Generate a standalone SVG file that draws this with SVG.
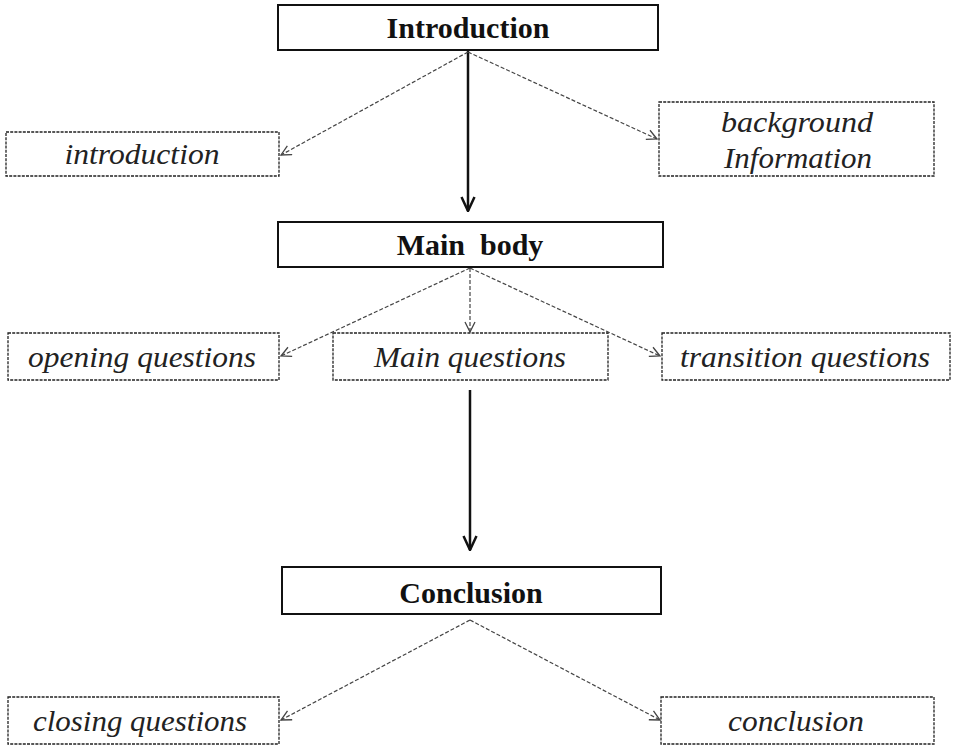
<svg xmlns="http://www.w3.org/2000/svg" width="954" height="746" viewBox="0 0 954 746">
<defs>
<style>
.main{fill:#fff;stroke:#111;stroke-width:2}
.sub{fill:#fff;stroke:#222;stroke-width:1.3;stroke-dasharray:3,1.2}
.bt{font-family:"Liberation Serif","Times New Roman",serif;font-weight:bold;font-size:30px;fill:#111;text-anchor:middle}
.it{font-family:"Liberation Serif","Times New Roman",serif;font-style:italic;font-size:30px;fill:#222;text-anchor:middle}
.dash{fill:none;stroke:#444;stroke-width:1.2;stroke-dasharray:4,2;marker-end:url(#ah)}
.solid{fill:none;stroke:#111;stroke-width:2.5;marker-end:url(#ahs)}
</style>
<marker id="ah" viewBox="0 0 12 12" refX="11" refY="6" markerWidth="12" markerHeight="12" markerUnits="userSpaceOnUse" orient="auto">
<polyline points="1,1 11,6 1,11" fill="none" stroke="#444" stroke-width="1.3"/>
</marker>
<marker id="ahs" viewBox="0 0 16 16" refX="15" refY="8" markerWidth="16" markerHeight="16" markerUnits="userSpaceOnUse" orient="auto">
<polyline points="1,1.5 15,8 1,14.5" fill="none" stroke="#111" stroke-width="2.5"/>
</marker>
</defs>
<rect width="954" height="746" fill="#fff"/>
<g id="connectors">
<line class="solid" x1="468" y1="51" x2="468" y2="211"/>
<line class="solid" x1="470" y1="390" x2="470" y2="550"/>
<line class="dash" x1="468" y1="52" x2="281" y2="155"/>
<line class="dash" x1="468" y1="52" x2="657" y2="139"/>
<line class="dash" x1="470" y1="268" x2="281" y2="356"/>
<line class="dash" x1="470" y1="268" x2="470" y2="332"/>
<line class="dash" x1="470" y1="268" x2="660" y2="356"/>
<line class="dash" x1="470" y1="620" x2="281" y2="720"/>
<line class="dash" x1="470" y1="620" x2="660" y2="720"/>
</g>
<g id="n-introduction-main">
<rect class="main" x="278" y="5" width="380" height="45"/>
<text class="bt" x="468" y="38">Introduction</text>
</g>
<g id="n-introduction">
<rect class="sub" x="6" y="132" width="273" height="44"/>
<text class="it" x="142" y="164" textLength="155" lengthAdjust="spacingAndGlyphs">introduction</text>
</g>
<g id="n-background">
<rect class="sub" x="659" y="102" width="275" height="74"/>
<text class="it" x="797" y="132" textLength="152" lengthAdjust="spacingAndGlyphs">background</text>
<text class="it" x="798" y="168" textLength="148" lengthAdjust="spacingAndGlyphs">Information</text>
</g>
<g id="n-mainbody">
<rect class="main" x="278" y="222" width="385" height="45"/>
<text class="bt" x="470" y="255" xml:space="preserve">Main  body</text>
</g>
<g id="n-opening">
<rect class="sub" x="8" y="333" width="271" height="47"/>
<text class="it" x="142" y="367" textLength="228" lengthAdjust="spacingAndGlyphs">opening questions</text>
</g>
<g id="n-mainq">
<rect class="sub" x="333" y="333" width="275" height="47"/>
<text class="it" x="470" y="367" textLength="192" lengthAdjust="spacingAndGlyphs">Main questions</text>
</g>
<g id="n-transition">
<rect class="sub" x="662" y="333" width="288" height="47"/>
<text class="it" x="805" y="367" textLength="250" lengthAdjust="spacingAndGlyphs">transition questions</text>
</g>
<g id="n-conclusion-main">
<rect class="main" x="282" y="567" width="379" height="47"/>
<text class="bt" x="471" y="603">Conclusion</text>
</g>
<g id="n-closing">
<rect class="sub" x="8" y="697" width="271" height="47"/>
<text class="it" x="140" y="731" textLength="214" lengthAdjust="spacingAndGlyphs">closing questions</text>
</g>
<g id="n-conclusion">
<rect class="sub" x="661" y="697" width="273" height="47"/>
<text class="it" x="796" y="731" textLength="136" lengthAdjust="spacingAndGlyphs">conclusion</text>
</g>
</svg>
